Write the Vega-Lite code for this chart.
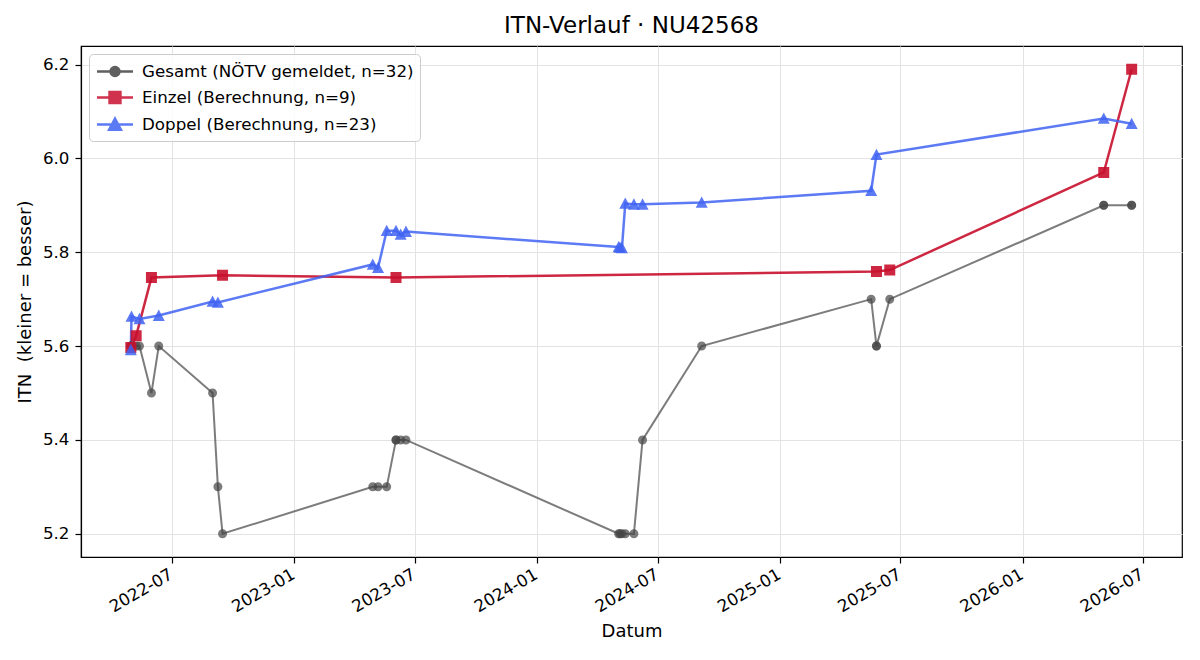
{
  "$schema": "https://vega.github.io/schema/vega-lite/v6.json",
  "width": 1101,
  "height": 511,
  "autosize": {"type": "none"},
  "padding": {"left": 81, "top": 46, "right": 18, "bottom": 103},
  "background": "white",
  "title": {"text": "ITN-Verlauf · NU42568", "fontSize": 23, "fontWeight": "normal", "font": "DejaVu Sans", "color": "black", "offset": 8},
  "data": {
    "values": [
      {"series": "Gesamt (NÖTV gemeldet, n=32)", "datum": "2022-04-30", "itn": 5.6},
      {"series": "Gesamt (NÖTV gemeldet, n=32)", "datum": "2022-04-30", "itn": 5.6},
      {"series": "Gesamt (NÖTV gemeldet, n=32)", "datum": "2022-05-01", "itn": 5.6},
      {"series": "Gesamt (NÖTV gemeldet, n=32)", "datum": "2022-05-08", "itn": 5.6},
      {"series": "Gesamt (NÖTV gemeldet, n=32)", "datum": "2022-05-13", "itn": 5.6},
      {"series": "Gesamt (NÖTV gemeldet, n=32)", "datum": "2022-05-31", "itn": 5.5},
      {"series": "Gesamt (NÖTV gemeldet, n=32)", "datum": "2022-06-11", "itn": 5.6},
      {"series": "Gesamt (NÖTV gemeldet, n=32)", "datum": "2022-08-31", "itn": 5.5},
      {"series": "Gesamt (NÖTV gemeldet, n=32)", "datum": "2022-09-08", "itn": 5.3},
      {"series": "Gesamt (NÖTV gemeldet, n=32)", "datum": "2022-09-15", "itn": 5.2},
      {"series": "Gesamt (NÖTV gemeldet, n=32)", "datum": "2023-04-29", "itn": 5.3},
      {"series": "Gesamt (NÖTV gemeldet, n=32)", "datum": "2023-05-07", "itn": 5.3},
      {"series": "Gesamt (NÖTV gemeldet, n=32)", "datum": "2023-05-20", "itn": 5.3},
      {"series": "Gesamt (NÖTV gemeldet, n=32)", "datum": "2023-06-03", "itn": 5.4},
      {"series": "Gesamt (NÖTV gemeldet, n=32)", "datum": "2023-06-03", "itn": 5.4},
      {"series": "Gesamt (NÖTV gemeldet, n=32)", "datum": "2023-06-10", "itn": 5.4},
      {"series": "Gesamt (NÖTV gemeldet, n=32)", "datum": "2023-06-18", "itn": 5.4},
      {"series": "Gesamt (NÖTV gemeldet, n=32)", "datum": "2024-05-03", "itn": 5.2},
      {"series": "Gesamt (NÖTV gemeldet, n=32)", "datum": "2024-05-05", "itn": 5.2},
      {"series": "Gesamt (NÖTV gemeldet, n=32)", "datum": "2024-05-08", "itn": 5.2},
      {"series": "Gesamt (NÖTV gemeldet, n=32)", "datum": "2024-05-13", "itn": 5.2},
      {"series": "Gesamt (NÖTV gemeldet, n=32)", "datum": "2024-05-26", "itn": 5.2},
      {"series": "Gesamt (NÖTV gemeldet, n=32)", "datum": "2024-06-08", "itn": 5.4},
      {"series": "Gesamt (NÖTV gemeldet, n=32)", "datum": "2024-09-05", "itn": 5.6},
      {"series": "Gesamt (NÖTV gemeldet, n=32)", "datum": "2025-05-18", "itn": 5.7},
      {"series": "Gesamt (NÖTV gemeldet, n=32)", "datum": "2025-05-26", "itn": 5.6},
      {"series": "Gesamt (NÖTV gemeldet, n=32)", "datum": "2025-05-26", "itn": 5.6},
      {"series": "Gesamt (NÖTV gemeldet, n=32)", "datum": "2025-06-15", "itn": 5.7},
      {"series": "Gesamt (NÖTV gemeldet, n=32)", "datum": "2026-05-03", "itn": 5.9},
      {"series": "Gesamt (NÖTV gemeldet, n=32)", "datum": "2026-05-03", "itn": 5.9},
      {"series": "Gesamt (NÖTV gemeldet, n=32)", "datum": "2026-06-14", "itn": 5.9},
      {"series": "Gesamt (NÖTV gemeldet, n=32)", "datum": "2026-06-14", "itn": 5.9},

      {"series": "Einzel (Berechnung, n=9)", "datum": "2022-04-30", "itn": 5.597},
      {"series": "Einzel (Berechnung, n=9)", "datum": "2022-05-08", "itn": 5.622},
      {"series": "Einzel (Berechnung, n=9)", "datum": "2022-05-31", "itn": 5.746},
      {"series": "Einzel (Berechnung, n=9)", "datum": "2022-09-15", "itn": 5.751},
      {"series": "Einzel (Berechnung, n=9)", "datum": "2023-06-03", "itn": 5.746},
      {"series": "Einzel (Berechnung, n=9)", "datum": "2025-05-26", "itn": 5.759},
      {"series": "Einzel (Berechnung, n=9)", "datum": "2025-06-15", "itn": 5.762},
      {"series": "Einzel (Berechnung, n=9)", "datum": "2026-05-03", "itn": 5.97},
      {"series": "Einzel (Berechnung, n=9)", "datum": "2026-06-14", "itn": 6.19},

      {"series": "Doppel (Berechnung, n=23)", "datum": "2022-04-30", "itn": 5.592},
      {"series": "Doppel (Berechnung, n=23)", "datum": "2022-05-01", "itn": 5.663},
      {"series": "Doppel (Berechnung, n=23)", "datum": "2022-05-13", "itn": 5.658},
      {"series": "Doppel (Berechnung, n=23)", "datum": "2022-06-11", "itn": 5.665},
      {"series": "Doppel (Berechnung, n=23)", "datum": "2022-08-31", "itn": 5.695},
      {"series": "Doppel (Berechnung, n=23)", "datum": "2022-09-08", "itn": 5.693},
      {"series": "Doppel (Berechnung, n=23)", "datum": "2023-04-29", "itn": 5.774},
      {"series": "Doppel (Berechnung, n=23)", "datum": "2023-05-07", "itn": 5.767},
      {"series": "Doppel (Berechnung, n=23)", "datum": "2023-05-20", "itn": 5.846},
      {"series": "Doppel (Berechnung, n=23)", "datum": "2023-06-03", "itn": 5.846},
      {"series": "Doppel (Berechnung, n=23)", "datum": "2023-06-10", "itn": 5.838},
      {"series": "Doppel (Berechnung, n=23)", "datum": "2023-06-18", "itn": 5.844},
      {"series": "Doppel (Berechnung, n=23)", "datum": "2024-05-03", "itn": 5.811},
      {"series": "Doppel (Berechnung, n=23)", "datum": "2024-05-05", "itn": 5.81},
      {"series": "Doppel (Berechnung, n=23)", "datum": "2024-05-08", "itn": 5.809},
      {"series": "Doppel (Berechnung, n=23)", "datum": "2024-05-13", "itn": 5.904},
      {"series": "Doppel (Berechnung, n=23)", "datum": "2024-05-26", "itn": 5.902},
      {"series": "Doppel (Berechnung, n=23)", "datum": "2024-06-08", "itn": 5.902},
      {"series": "Doppel (Berechnung, n=23)", "datum": "2024-09-05", "itn": 5.906},
      {"series": "Doppel (Berechnung, n=23)", "datum": "2025-05-18", "itn": 5.931},
      {"series": "Doppel (Berechnung, n=23)", "datum": "2025-05-26", "itn": 6.008},
      {"series": "Doppel (Berechnung, n=23)", "datum": "2026-05-03", "itn": 6.085},
      {"series": "Doppel (Berechnung, n=23)", "datum": "2026-06-14", "itn": 6.074}
    ]
  },
  "encoding": {
    "x": {
      "field": "datum",
      "type": "temporal",
      "title": "Datum",
      "scale": {
        "domain": [
          {"year": 2022, "month": 2, "date": 14, "utc": true},
          {"year": 2026, "month": 8, "date": 28, "hours": 18, "utc": true}
        ]
      },
      "axis": {
        "values": [
          {"year": 2022, "month": 7, "date": 1, "utc": true},
          {"year": 2023, "month": 1, "date": 1, "utc": true},
          {"year": 2023, "month": 7, "date": 1, "utc": true},
          {"year": 2024, "month": 1, "date": 1, "utc": true},
          {"year": 2024, "month": 7, "date": 1, "utc": true},
          {"year": 2025, "month": 1, "date": 1, "utc": true},
          {"year": 2025, "month": 7, "date": 1, "utc": true},
          {"year": 2026, "month": 1, "date": 1, "utc": true},
          {"year": 2026, "month": 7, "date": 1, "utc": true}
        ],
        "labelExpr": "utcFormat(datum.value, '%Y-%m')",
        "labelAngle": -30,
        "labelAlign": "right",
        "labelBaseline": "top",
        "labelOffset": -5,
        "labelPadding": 3,
        "titlePadding": 7
      }
    },
    "y": {
      "field": "itn",
      "type": "quantitative",
      "title": "ITN\u00a0 (kleiner = besser)",
      "scale": {"domain": [5.1505, 6.2395], "nice": false, "zero": false},
      "axis": {
        "values": [5.2, 5.4, 5.6, 5.8, 6.0, 6.2],
        "format": ".1f",
        "labelPadding": 6,
        "titlePadding": 8
      }
    }
  },
  "layer": [
    {
      "mark": {"type": "line"},
      "encoding": {
        "detail": {"field": "series", "type": "nominal"},
        "color": {
          "condition": [
            {"test": "datum.series === 'Einzel (Berechnung, n=9)'", "value": "#c8102e"},
            {"test": "datum.series === 'Doppel (Berechnung, n=23)'", "value": "#3f63f2"}
          ],
          "value": "#444444"
        },
        "opacity": {
          "condition": [
            {"test": "datum.series === 'Einzel (Berechnung, n=9)'", "value": 0.9},
            {"test": "datum.series === 'Doppel (Berechnung, n=23)'", "value": 0.85}
          ],
          "value": 0.7
        },
        "strokeWidth": {
          "condition": [
            {"test": "datum.series === 'Einzel (Berechnung, n=9)'", "value": 2.5},
            {"test": "datum.series === 'Doppel (Berechnung, n=23)'", "value": 2.5}
          ],
          "value": 2
        }
      }
    },
    {
      "mark": {"type": "point", "filled": true, "size": 400, "strokeWidth": 0},
      "encoding": {
        "opacity": {
          "condition": [
            {"test": "datum.series === 'Einzel (Berechnung, n=9)'", "value": 0.9},
            {"test": "datum.series === 'Doppel (Berechnung, n=23)'", "value": 0.85}
          ],
          "value": 0.7
        },
        "shape": {
          "field": "series",
          "type": "nominal",
          "scale": {
            "domain": ["Gesamt (NÖTV gemeldet, n=32)", "Einzel (Berechnung, n=9)", "Doppel (Berechnung, n=23)"],
            "range": [
              "M-1.8,0H1.8M-0.45,0A0.45,0.45,0,1,0,0.45,0A0.45,0.45,0,1,0,-0.45,0Z",
              "M-1.8,0H1.8M-0.55,-0.55H0.55V0.55H-0.55Z",
              "M-1.8,0H1.8M0,-0.6L0.6,0.53H-0.6Z"
            ]
          }
        },
        "color": {
          "field": "series",
          "type": "nominal",
          "scale": {
            "domain": ["Gesamt (NÖTV gemeldet, n=32)", "Einzel (Berechnung, n=9)", "Doppel (Berechnung, n=23)"],
            "range": ["#444444", "#c8102e", "#3f63f2"]
          },
          "legend": {
            "title": null,
            "orient": "top-left",
            "offset": 8,
            "padding": 6,
            "labelFont": "DejaVu Sans",
            "labelFontSize": 16.7,
            "labelColor": "black",
            "labelLimit": 0,
            "rowPadding": 5,
            "symbolSize": 400,
            "symbolOpacity": 0.85,
            "fillColor": "rgba(255,255,255,0.85)",
            "strokeColor": "#cccccc",
            "cornerRadius": 4,
            "encode": {
              "symbols": {
                "update": {
                  "x": {"value": 20},
                  "stroke": {"scale": "color", "field": "value"},
                  "strokeWidth": {"value": 2.4}
                }
              },
              "labels": {
                "update": {
                  "x": {"value": 47}
                }
              }
            }
          }
        }
      }
    }
  ],
  "config": {
    "font": "DejaVu Sans",
    "view": {"stroke": "black", "strokeWidth": 1.2},
    "axis": {
      "domainColor": "black",
      "domainWidth": 1.2,
      "tickColor": "black",
      "tickSize": 6,
      "tickWidth": 1.2,
      "labelColor": "black",
      "titleColor": "black",
      "labelFont": "DejaVu Sans",
      "titleFont": "DejaVu Sans",
      "labelFontSize": 16.7,
      "titleFontSize": 18,
      "titleFontWeight": "normal",
      "gridColor": "#e3e3e3",
      "gridWidth": 1
    }
  }
}
